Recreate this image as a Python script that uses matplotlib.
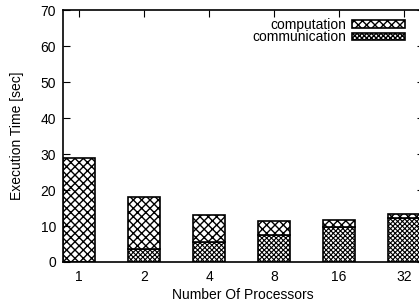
import numpy as np
import matplotlib
matplotlib.use("Agg")
import matplotlib.pyplot as plt

plt.rcParams['font.family'] = ['Liberation Sans', 'DejaVu Sans']

processors = ["1", "2", "4", "8", "16", "32"]
communication = [0.0, 3.6, 5.5, 7.5, 9.7, 12.2]
computation = [29.0, 14.4, 7.5, 3.9, 2.1, 1.1]

fig = plt.figure(figsize=(4.19, 3.07), dpi=100)
ax = fig.add_axes([0.150, 0.1466, 0.861, 0.820])

x = np.arange(len(processors))
w = 0.5
plt.rcParams['hatch.linewidth'] = 0.8
ax.bar(x, communication, w, color="white", edgecolor="black", hatch="x" * 7,
       linewidth=1.2, label="communication")
plt.rcParams['hatch.linewidth'] = 1.0
ax.bar(x, computation, w, bottom=communication, color="white", edgecolor="black",
       hatch="xxxx", linewidth=1.2, label="computation")

ax.set_xlim(-0.25, 5.3)
ax.set_ylim(0, 70)
ax.set_xticks(x)
ax.set_xticklabels(processors)
ax.set_yticks(np.arange(0, 71, 10))
ax.tick_params(direction="in", length=5, width=0.8, labelsize=10,
               top=True, right=True, bottom=False, pad=5)
ax.tick_params(axis="x", pad=6)
for s in ax.spines.values():
    s.set_linewidth(1.2)

ax.set_xlabel("Number Of Processors", fontsize=10, labelpad=3)
ax.set_ylabel("Execution Time [sec]", fontsize=10, labelpad=12)

h, l = ax.get_legend_handles_labels()
leg = fig.legend(h[::-1], l[::-1], loc="upper right", bbox_to_anchor=(0.98, 0.96),
                 frameon=False, markerfirst=False, fontsize=10, handlelength=3.8,
                 handleheight=0.45, labelspacing=-0.1, borderaxespad=0, handletextpad=0.4)

fig.savefig("out.png", dpi=100)
